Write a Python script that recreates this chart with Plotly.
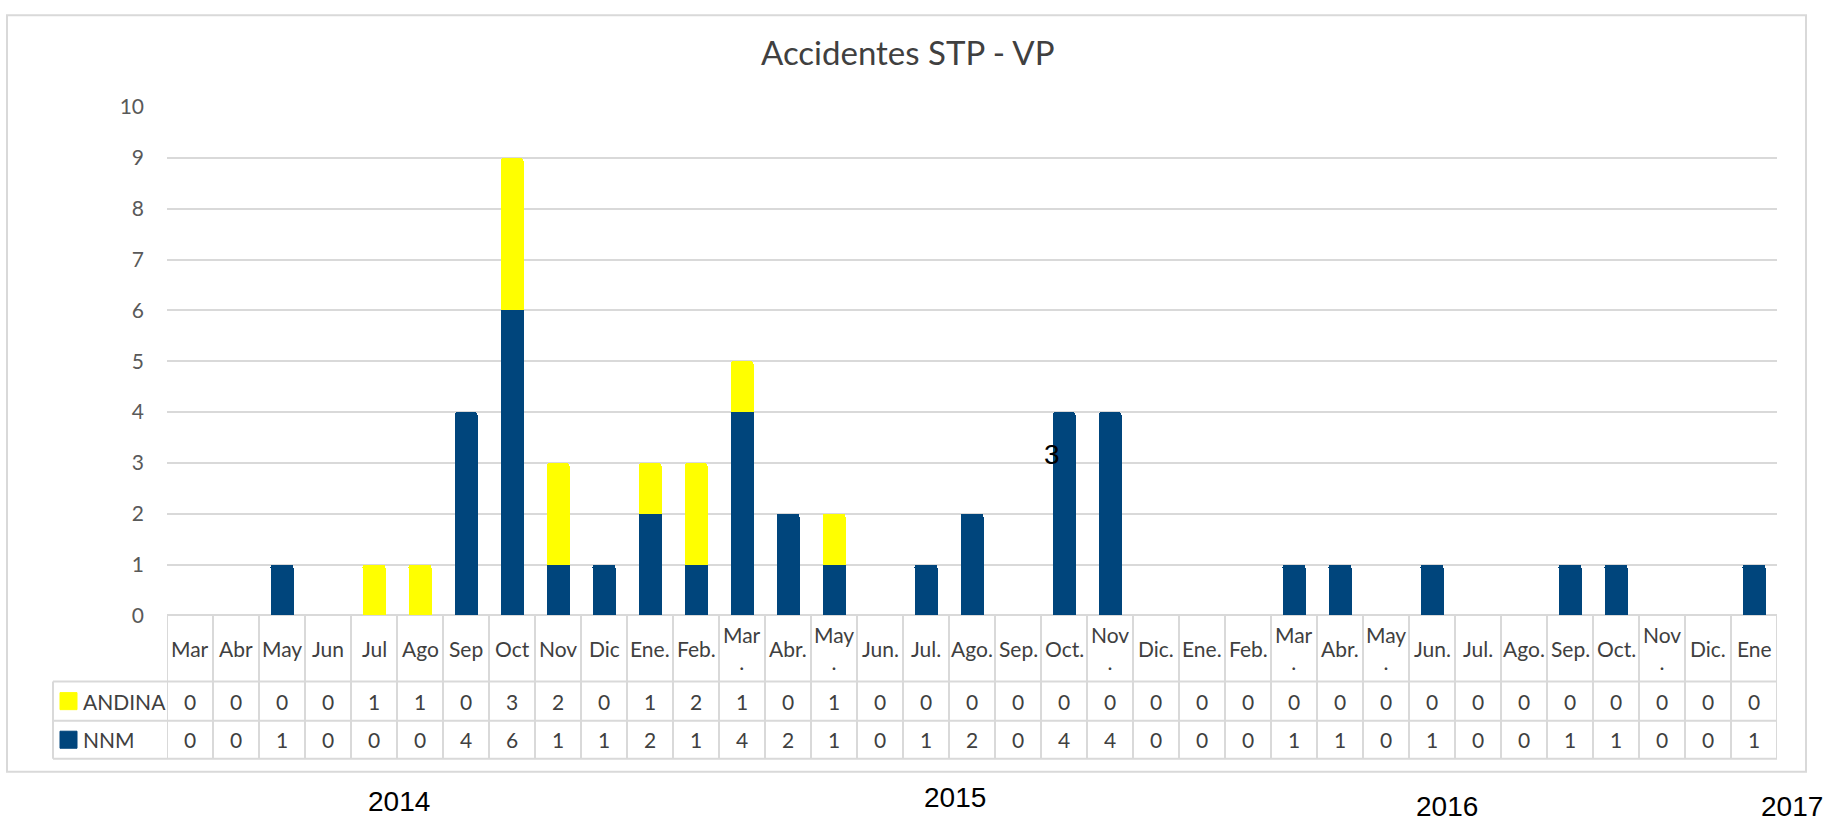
import plotly.graph_objects as go

W, H = 1825, 829

# ---- data ----
months = ["Mar", "Abr", "May", "Jun", "Jul", "Ago", "Sep", "Oct", "Nov", "Dic",
          "Ene.", "Feb.", "Mar.", "Abr.", "May.", "Jun.", "Jul.", "Ago.", "Sep.", "Oct.", "Nov.", "Dic.",
          "Ene.", "Feb.", "Mar.", "Abr.", "May.", "Jun.", "Jul.", "Ago.", "Sep.", "Oct.", "Nov.", "Dic.",
          "Ene"]
andina = [0, 0, 0, 0, 1, 1, 0, 3, 2, 0,
          1, 2, 1, 0, 1, 0, 0, 0, 0, 0, 0, 0,
          0, 0, 0, 0, 0, 0, 0, 0, 0, 0, 0, 0,
          0]
nnm = [0, 0, 1, 0, 0, 0, 4, 6, 1, 1,
       2, 1, 4, 2, 1, 0, 1, 2, 0, 4, 4, 0,
       0, 0, 1, 1, 0, 1, 0, 0, 1, 1, 0, 0,
       1]
series_names = ["ANDINA", "NNM"]
years = ["2014", "2015", "2016", "2017"]
stray_label = "3"

# ---- style ----
YELLOW = "#FFFF00"
BLUE = "#00457C"
GRID = "#D9D9D9"
TXT = "#404040"
FONT = "Lato"

# the photographed page maps css y to roughly 0.9674*y + 14.1; place things so
# that they land where the reference has them
def cy(y):
    return min(max((y - 14.1) / 0.9674, 0.0), H)

def px(x):
    return x / W

def py(y):
    return 1 - cy(y) / H

x_idx = list(range(len(months)))
wrap = {"Mar.", "May.", "Nov."}
disp = [(m[:-1] + "<br>.") if m in wrap else m for m in months]

fig = go.Figure()
fig.add_trace(go.Bar(x=x_idx, y=nnm, name="NNM", marker_color=BLUE, marker_line_width=0))
fig.add_trace(go.Bar(x=x_idx, y=andina, name="ANDINA", marker_color=YELLOW, marker_line_width=0))

X0, X1 = 167, 1777
Y_TOP, Y_ZERO = 107, 614
R_HDR, R_A, R_N = 680, 719, 757
LEG_L = 53

fig.update_layout(
    width=W, height=H,
    margin=dict(l=0, r=0, t=0, b=0),
    paper_bgcolor="white", plot_bgcolor="white",
    barmode="stack", bargap=0.5, barcornerradius=3,
    showlegend=False,
    xaxis=dict(domain=[px(X0), px(X1)], range=[-0.5, len(months) - 0.5],
               showticklabels=False, showgrid=False, zeroline=False, showline=False, ticks=""),
    yaxis=dict(domain=[py(Y_ZERO), py(Y_TOP)], range=[0, 10], dtick=1,
               showgrid=True, gridcolor=GRID, gridwidth=2,
               zeroline=True, zerolinecolor=GRID, zerolinewidth=2,
               showline=False, ticks="", ticklabelstandoff=22,
               tickfont=dict(family=FONT, size=21, color="#595959")),
    font=dict(family=FONT, color=TXT),
)

shapes = []
line = dict(color=GRID, width=2)
# outer chart border
shapes.append(dict(type="rect", xref="paper", yref="paper", x0=px(7), x1=px(1806),
                   y0=py(770), y1=1 - 1.2 / H, line=line, layer="below"))
# table horizontal lines
for yy in (R_HDR, R_A, R_N):
    shapes.append(dict(type="line", xref="paper", yref="paper", x0=px(LEG_L), x1=px(X1),
                       y0=py(yy), y1=py(yy), line=line))
# legend column left edge
shapes.append(dict(type="line", xref="paper", yref="paper", x0=px(LEG_L), x1=px(LEG_L),
                   y0=py(R_HDR), y1=py(R_N), line=line))
# column separators
for i in range(len(months) + 1):
    shapes.append(dict(type="line", xref="x", yref="paper", x0=i - 0.5, x1=i - 0.5,
                       y0=py(Y_ZERO), y1=py(R_N), line=line))
# legend keys
for name, color, (ya, yb) in [("ANDINA", YELLOW, (R_HDR, R_A)), ("NNM", BLUE, (R_A, R_N))]:
    c = (ya + yb) / 2
    shapes.append(dict(type="rect", xref="paper", yref="paper", x0=px(60), x1=px(77),
                       y0=py(c + 8.5), y1=py(c - 8.5), fillcolor=color,
                       line=dict(color=color, width=1)))
fig.update_layout(shapes=shapes)

ann = []
# title
ann.append(dict(text="Accidentes STP - VP", xref="paper", yref="paper", x=px(907), y=py(52),
                showarrow=False, xanchor="center", yanchor="middle",
                font=dict(family=FONT, size=33, color=TXT)))
# header row
for i, lbl in enumerate(disp):
    ann.append(dict(text=lbl, xref="x", yref="paper", x=i, y=py((Y_ZERO + R_HDR) / 2),
                    showarrow=False, xanchor="center", yanchor="middle",
                    font=dict(family=FONT, size=21, color=TXT)))
# data rows
for vals, (ya, yb) in [(andina, (R_HDR, R_A)), (nnm, (R_A, R_N))]:
    for i, v in enumerate(vals):
        ann.append(dict(text=str(v), xref="x", yref="paper", x=i, y=py((ya + yb) / 2),
                        showarrow=False, xanchor="center", yanchor="middle",
                        font=dict(family=FONT, size=21, color=TXT)))
# series names
for name, (ya, yb) in zip(series_names, [(R_HDR, R_A), (R_A, R_N)]):
    ann.append(dict(text=name, xref="paper", yref="paper", x=px(81), y=py((ya + yb) / 2),
                    showarrow=False, xanchor="left", yanchor="middle",
                    font=dict(family=FONT, size=21, color=TXT)))
# year labels (shifted up together so the lowest one stays inside the page)
year_pos = [(399, 811), (955, 807), (1447, 818), (1792, 817)]
shift = max(cy(yy) for _, yy in year_pos) - 817
for yr, (xx, yy) in zip(years, year_pos):
    ycss = cy(yy) - shift
    ann.append(dict(text=yr, xref="paper", yref="paper", x=px(xx), y=1 - ycss / H,
                    showarrow=False, xanchor="center", yanchor="middle",
                    font=dict(family="Liberation Sans", size=28, color="black")))
# stray "3"
ann.append(dict(text=stray_label, xref="paper", yref="paper", x=px(1052), y=py(453),
                showarrow=False, xanchor="center", yanchor="middle",
                font=dict(family="Liberation Sans", size=28, color="black")))
fig.update_layout(annotations=ann)

fig.write_html(
    "out.html",
    config={"displayModeBar": False},
    post_script="document.body.style.margin='0';document.documentElement.style.overflow='hidden';",
)
